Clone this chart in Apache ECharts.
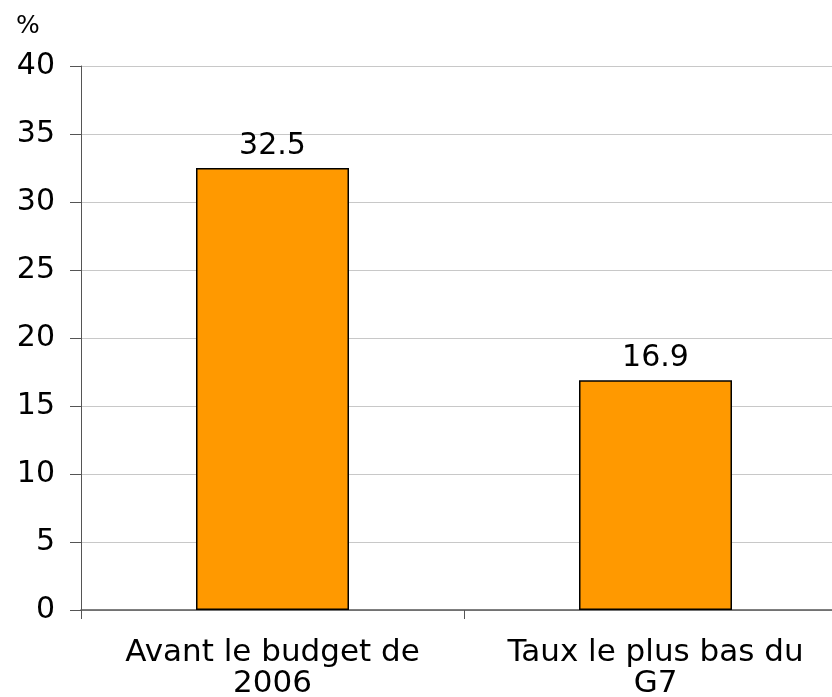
<!DOCTYPE html>
<html>
<head>
<meta charset="utf-8">
<script src="https://cdn.jsdelivr.net/npm/echarts@6/dist/echarts.min.js"></script>
<style>
html, body { margin: 0; padding: 0; background: #fff; overflow: hidden; }
#chartView { width: 847px; height: 697px; }
</style>
</head>
<body>
<div id="chartView"></div>
<script>
var categories = ['Avant le budget de\n2006', 'Taux le plus bas du\nG7'];
var values = [32.5, 16.9];
var yMin = 0, yMax = 40, yStep = 5;

// plot runs a bit past the right edge of the window, as in the original
var chartView = echarts.init(document.getElementById('chartView'));
var ops = {
	animation: false,
	textStyle: { fontFamily: 'DejaVu Sans' },
	grid: {
		left: 81,
		right: 0,
		top: 66,
		bottom: 87,
		outerBoundsMode: 'none'
	},
	graphic: [{
		type: 'text',
		left: 16,
		top: 14,
		style: { text: '%', fontSize: 25, fill: '#000', fontFamily: 'DejaVu Sans' }
	}],
	xAxis: [{
		type: 'category',
		data: categories,
		axisLine: { lineStyle: { color: '#555', width: 1.5 } },
		axisTick: { show: true, interval: 0, length: 9, lineStyle: { color: '#555', width: 1 } },
		axisLabel: {
			interval: 0,
			hideOverlap: false,
			color: '#000',
			fontSize: 31,
			lineHeight: 31,
			margin: 27
		}
	}],
	yAxis: [{
		type: 'value',
		min: yMin,
		max: yMax,
		interval: yStep,
		axisLine: { show: true, lineStyle: { color: '#555', width: 1 } },
		axisTick: { show: true, inside: false, length: 11, lineStyle: { color: '#555' } },
		splitLine: { lineStyle: { color: '#c8c8c8', width: 1 } },
		axisLabel: { color: '#000', fontSize: 30, margin: 26 }
	}],
	series: [{
		type: 'bar',
		data: values,
		barWidth: 153,
		itemStyle: { color: '#FF9900', borderColor: '#000', borderWidth: 1.5 },
		label: {
			show: true,
			position: 'top',
			distance: 7,
			color: '#000',
			fontSize: 30,
			fontFamily: 'DejaVu Sans'
		}
	}]
};
chartView.setOption(ops);
</script>
</body>
</html>
